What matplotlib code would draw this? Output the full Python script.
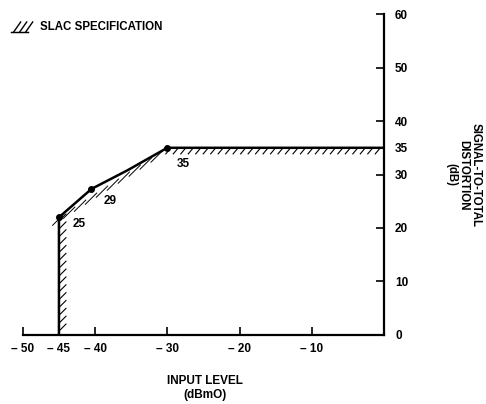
import matplotlib.pyplot as plt
import matplotlib.patheffects as pe

# Measured distortion curve (input level dBmO vs S/D dB)
input_level = [-45, -45, -40.5, -35.5, -30, 0]
snd_db = [0, 22, 27.3, 30.8, 35, 35]

# Marked points and their labels
mark_x = [-45, -40.5, -30]
mark_y = [22, 27.3, 35]
mark_labels = ["25", "29", "35"]

# SLAC specification boundary
spec_x = [-45, -45, -30, 0]
spec_y = [0, 22, 35, 35]

xticks = [-50, -45, -40, -30, -20, -10]
xtick_labels = ["\u2013 50", "\u2013 45", "\u2013 40", "\u2013 30", "\u2013 20", "\u2013 10"]
yticks = [0, 10, 20, 30, 35, 40, 50, 60]

plt.rcParams["font.family"] = ["Liberation Sans", "DejaVu Sans"]
plt.rcParams["font.weight"] = "bold"

fig = plt.figure(figsize=(4.86, 4.04), dpi=100)
ax = fig.add_axes([0.047, 0.171, 0.743, 0.794])

ax.set_xlim(-50, 0)
ax.set_ylim(0, 60)

# Spec boundary: hatched strokes, one segment at a time
ax.plot(spec_x[0:2], spec_y[0:2], color="black", lw=0,
        path_effects=[pe.withTickedStroke(angle=-45, spacing=5.5, length=1.3, linewidth=0.8)])
ax.plot(spec_x[1:3], spec_y[1:3], color="black", lw=0,
        path_effects=[pe.withTickedStroke(angle=-168, spacing=8.5, length=1.35, linewidth=0.7)])
ax.plot(spec_x[2:4], spec_y[2:4], color="black", lw=0,
        path_effects=[pe.withTickedStroke(angle=-130, spacing=5.2, length=1.1, linewidth=0.8)])

# Measured curve
ax.plot(input_level, snd_db, color="black", lw=1.8, solid_joinstyle="round")
ax.plot(mark_x, mark_y, "o", color="black", ms=4)
label_offsets = [(10, -5), (9, -9), (7, -12)]
for x, y, s, off in zip(mark_x, mark_y, mark_labels, label_offsets):
    ax.annotate(s, (x, y), xytext=off, textcoords="offset points",
                fontsize=8.5, fontweight="bold", ha="left", va="center")

# Axes styling: bottom and right spines only, ticks pointing in
for side in ["top", "left"]:
    ax.spines[side].set_visible(False)
for side in ["bottom", "right"]:
    ax.spines[side].set_linewidth(1.6)
ax.yaxis.tick_right()
ax.set_xticks(xticks)
ax.set_xticklabels(xtick_labels)
ax.set_yticks(yticks)
ax.tick_params(axis="both", direction="in", length=6, width=1.2,
               labelsize=8.5, pad=6)
ax.tick_params(axis="y", pad=8)
for lab in ax.get_xticklabels() + ax.get_yticklabels():
    lab.set_fontweight("bold")

ax.set_xlabel("INPUT LEVEL\n(dBmO)", fontsize=8.5, fontweight="bold")
ax.xaxis.set_label_coords(0.505, -0.125)
fig.text(0.953, 0.567, "SIGNAL-TO-TOTAL\nDISTORTION\n(dB)", rotation=270,
         ha="center", va="center", fontsize=8.3, fontweight="bold",
         multialignment="center", linespacing=1.0)

# Legend glyph and text
ax.plot([-0.032, 0.014], [0.944, 0.944], color="black", lw=0.9, transform=ax.transAxes,
        clip_on=False,
        path_effects=[pe.Normal(), pe.withTickedStroke(angle=55, spacing=3.3, length=2.7, linewidth=1.0)])
fig.text(0.082, 0.932, "SLAC SPECIFICATION", fontsize=8.3, fontweight="bold",
         ha="left", va="center")

fig.savefig("out.png", dpi=100)
